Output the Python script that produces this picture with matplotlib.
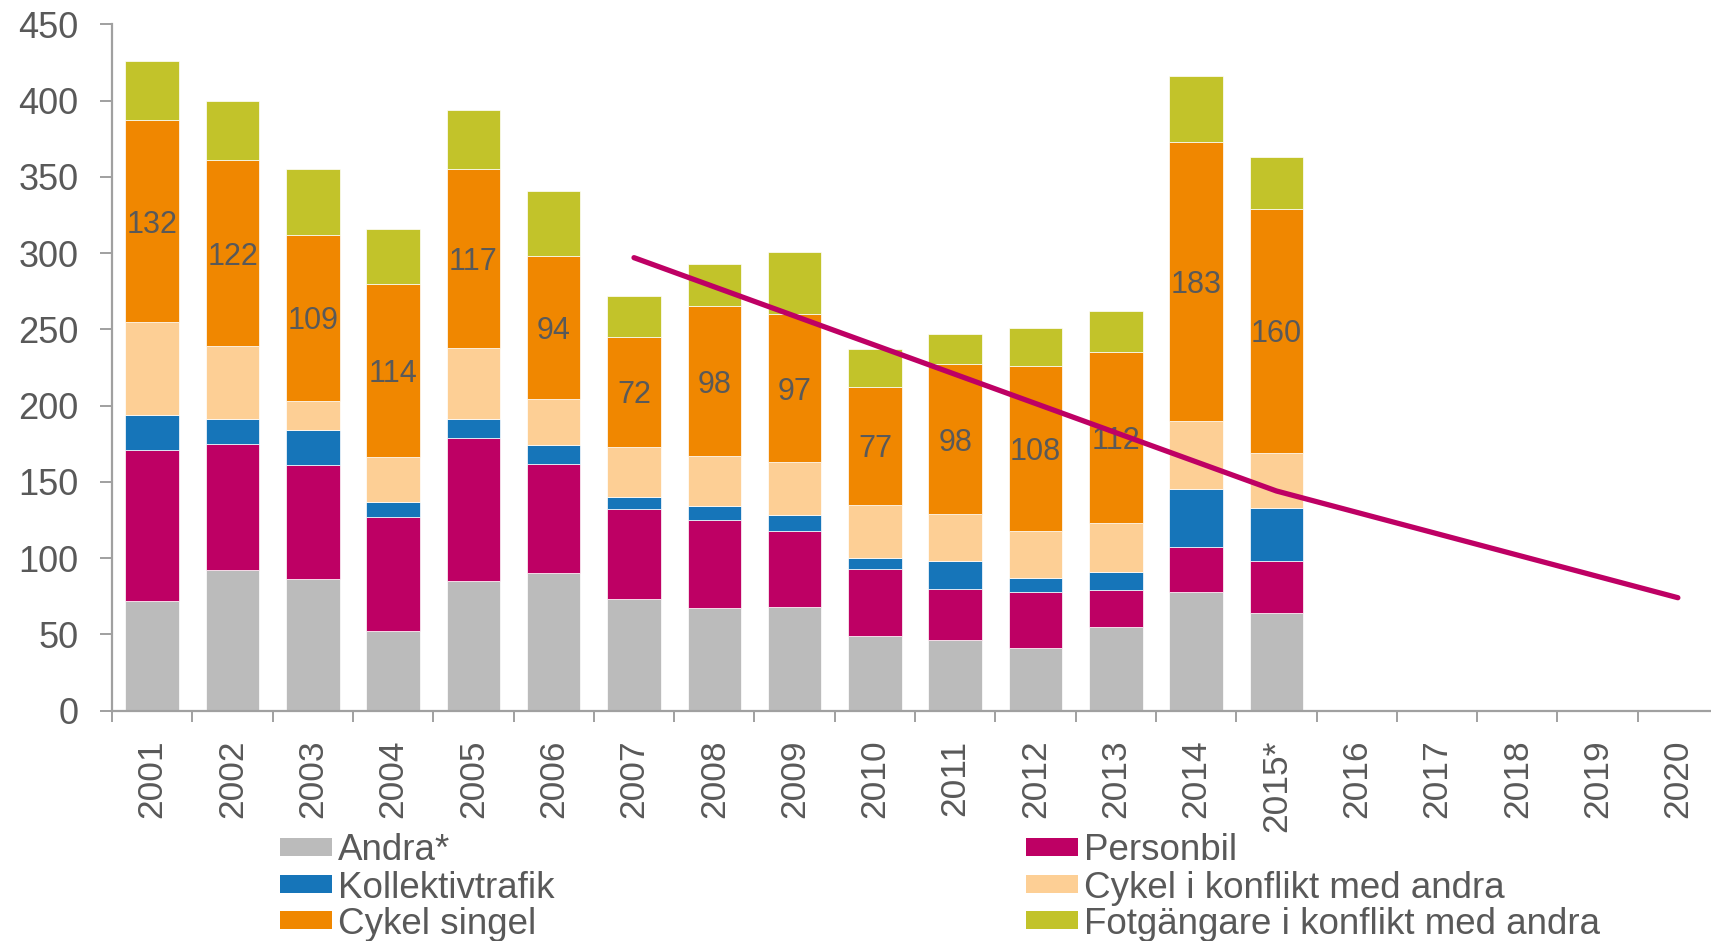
import numpy as np
import matplotlib
matplotlib.use('Agg')
import matplotlib.pyplot as plt
from matplotlib.patches import Rectangle

plt.rcParams['font.family'] = ['Liberation Sans', 'DejaVu Sans']

# Data
years = ['2001', '2002', '2003', '2004', '2005', '2006', '2007', '2008', '2009', '2010',
         '2011', '2012', '2013', '2014', '2015*', '2016', '2017', '2018', '2019', '2020']
andra = [72, 92, 86, 52, 85, 90, 73, 67, 68, 49, 46, 41, 55, 78, 64]
personbil = [99, 83, 75, 75, 94, 72, 59, 58, 50, 44, 34, 37, 24, 29, 34]
kollektiv = [23, 16, 23, 10, 12, 12, 8, 9, 10, 7, 18, 9, 12, 38, 35]
cykel_konflikt = [61, 48, 19, 29, 47, 30, 33, 33, 35, 35, 31, 31, 32, 45, 36]
cykel_singel = [132, 122, 109, 114, 117, 94, 72, 98, 97, 77, 98, 108, 112, 183, 160]
fotgangare = [39, 39, 43, 36, 39, 43, 27, 28, 41, 25, 20, 25, 27, 43, 34]

trend_years = ['2007', '2015*', '2020']
trend_values = [297, 144, 74]

series_names = ['Andra*', 'Personbil', 'Kollektivtrafik', 'Cykel i konflikt med andra',
                'Cykel singel', 'Fotgängare i konflikt med andra']
series_colors = ['#BBBBBB', '#BE0064', '#1675B9', '#FDCF95', '#F08700', '#C2C32A']
series = [andra, personbil, kollektiv, cykel_konflikt, cykel_singel, fotgangare]

TEXT = '#595959'
AXIS = '#A0A0A0'

fig = plt.figure(figsize=(17.11, 9.41), dpi=100)
ax = fig.add_axes([0.0655, 0.2449, 0.9386, 0.7292])

x = np.arange(len(andra))
bottom = np.zeros(len(andra))
for name, color, vals in zip(series_names, series_colors, series):
    vals = np.array(vals)
    ax.bar(x, vals, width=0.667, bottom=bottom, color=color, edgecolor='white',
           linewidth=0.5, label=name, zorder=2)
    if name == 'Cykel singel':
        # value labels in the middle of the orange segment
        for xi, b, v in zip(x, bottom, vals):
            ax.text(xi, b + v / 2, str(v), ha='center', va='center_baseline',
                    fontsize=22, color=TEXT, zorder=3)
    bottom += vals

# trend line
tx = [years.index(y) for y in trend_years]
ax.plot(tx, trend_values, color='#BE0064', linewidth=3.8, solid_capstyle='round',
        zorder=4)

ax.set_xlim(-0.5, len(years) - 0.5)
ax.set_ylim(0, 450)
ax.set_yticks(np.arange(0, 451, 50))
ax.set_xticks(np.arange(len(years)))
ax.set_xticklabels(years, rotation=90)
ax.set_xticks(np.arange(len(years) + 1) - 0.5, minor=True)

for s in ['top', 'right']:
    ax.spines[s].set_visible(False)
for s in ['left', 'bottom']:
    ax.spines[s].set_color(AXIS)
    ax.spines[s].set_linewidth(1.6)

ax.tick_params(axis='y', direction='out', length=8.6, width=1.4, color=AXIS,
               labelsize=26, labelcolor=TEXT, pad=15.5)
ax.tick_params(axis='x', which='major', length=0, labelsize=25.5, labelcolor=TEXT, pad=21)
ax.tick_params(axis='x', which='minor', direction='out', length=8, width=1.4, color=AXIS)

# legend, two columns
legend_order = [0, 2, 4, 1, 3, 5]
col_x = [280, 1026]
row_y = [847, 884, 920]
W, H = 1711.0, 941.0
for k, idx in enumerate(legend_order):
    cx = col_x[k // 3]
    ry = row_y[k % 3]
    fig.add_artist(Rectangle((cx / W, 1 - (ry + 9) / H), 52 / W, 18 / H,
                             transform=fig.transFigure, facecolor=series_colors[idx],
                             edgecolor='none'))
    fig.text((cx + 58) / W, 1 - ry / H, series_names[idx], fontsize=26.5,
             color=TEXT, ha='left', va='center_baseline')

fig.savefig('out.png', dpi=100)
